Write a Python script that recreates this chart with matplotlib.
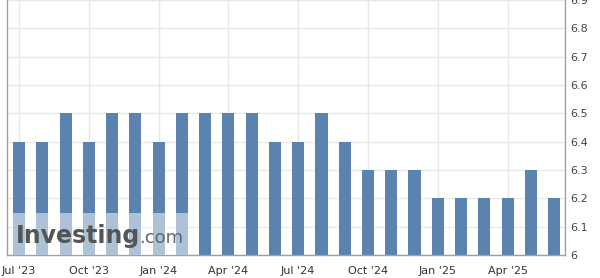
import matplotlib
matplotlib.use('Agg')
import matplotlib.pyplot as plt
from matplotlib.patches import Rectangle

months = ["Jul '23", "Aug '23", "Sep '23", "Oct '23", "Nov '23", "Dec '23",
          "Jan '24", "Feb '24", "Mar '24", "Apr '24", "May '24", "Jun '24",
          "Jul '24", "Aug '24", "Sep '24", "Oct '24", "Nov '24", "Dec '24",
          "Jan '25", "Feb '25", "Mar '25", "Apr '25", "May '25", "Jun '25"]
values = [6.4, 6.4, 6.5, 6.4, 6.5, 6.5,
          6.4, 6.5, 6.5, 6.5, 6.5, 6.4,
          6.4, 6.5, 6.4, 6.3, 6.3, 6.3,
          6.2, 6.2, 6.2, 6.2, 6.3, 6.2]
tick_idx = [0, 3, 6, 9, 12, 15, 18, 21]
yticks = [6, 6.1, 6.2, 6.3, 6.4, 6.5, 6.6, 6.7, 6.8, 6.9]

fig = plt.figure(figsize=(6, 2.78), dpi=100)
ax = fig.add_axes([7 / 600, 23 / 278, 558 / 600, 255 / 278])

x = list(range(len(values)))
ax.bar(x, [v - 6 for v in values], bottom=6, width=0.52, color='#5b83b0', zorder=2)

ax.set_xlim(-0.52, len(values) - 0.53)
ax.set_ylim(6, 6.9)

ax.set_xticks(tick_idx)
ax.set_xticklabels([months[i] for i in tick_idx])
ax.set_yticks(yticks)
ax.set_yticklabels(['6' if v == 6 else '%.1f' % v for v in yticks])
ax.yaxis.tick_right()
ax.tick_params(axis='both', length=0, labelsize=8, colors='#333333')
ax.tick_params(axis='x', pad=8)
ax.tick_params(axis='y', pad=4)
for lab in ax.get_yticklabels():
    lab.set_color('#444444')

ax.grid(True, color='#e8e8e8', linewidth=1, zorder=0)
ax.set_axisbelow(True)
for s in ['left', 'right', 'bottom']:
    ax.spines[s].set_color('#a0a0a0')
    ax.spines[s].set_linewidth(1)
ax.spines['top'].set_visible(False)

# watermark overlay
fig.patches.append(Rectangle((13 / 600, 23 / 278), 175 / 600, 42 / 278,
                             transform=fig.transFigure, facecolor='white',
                             alpha=0.5, edgecolor='none', zorder=5))
fig.text(16 / 600, 42 / 278, 'Investing', fontsize=17, fontweight='bold',
         color='#555555', va='center', ha='left', zorder=6)
fig.text(139 / 600, 40 / 278, '.com', fontsize=13, color='#666666',
         va='center', ha='left', zorder=6)

fig.savefig('out.png', dpi=100)
